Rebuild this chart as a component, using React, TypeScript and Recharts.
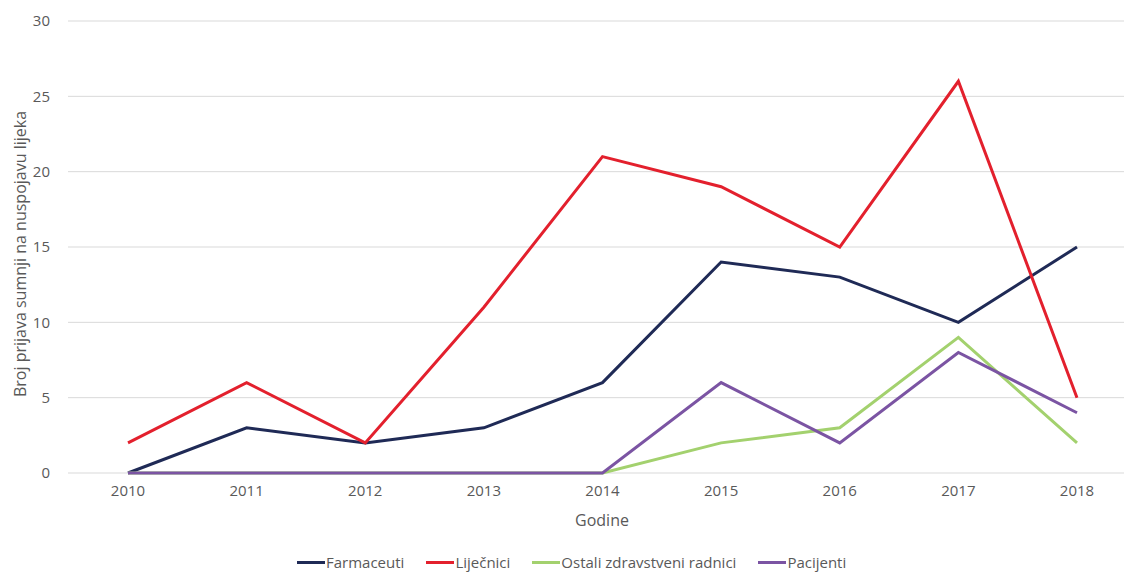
import { CartesianGrid, Line, LineChart, XAxis, YAxis } from "recharts";

const years = ["2010", "2011", "2012", "2013", "2014", "2015", "2016", "2017", "2018"];
const farmaceuti = [0, 3, 2, 3, 6, 14, 13, 10, 15];
const lijecnici = [2, 6, 2, 11, 21, 19, 15, 26, 5];
const ostali = [0, 0, 0, 0, 0, 2, 3, 9, 2];
const pacijenti = [0, 0, 0, 0, 0, 6, 2, 8, 4];
const yTicks = [0, 5, 10, 15, 20, 25, 30];

const series = [
  { key: "farmaceuti", name: "Farmaceuti", color: "#1f2a56" },
  { key: "lijecnici", name: "Liječnici", color: "#e3202d" },
  { key: "ostali", name: "Ostali zdravstveni radnici", color: "#a3d16e" },
  { key: "pacijenti", name: "Pacijenti", color: "#7b54a3" },
];

const data = years.map((year, i) => ({
  year,
  farmaceuti: farmaceuti[i],
  lijecnici: lijecnici[i],
  ostali: ostali[i],
  pacijenti: pacijenti[i],
}));

const font = "'Open Sans', 'Liberation Sans', sans-serif";
const textColor = "#595959";

// legend sits under the plot, outside the chart so it doesn't shrink the plot area
function LegendRow() {
  return (
    <div
      style={{
        position: "absolute",
        left: 297,
        top: 552,
        display: "flex",
        gap: 22,
        fontFamily: font,
        fontSize: 15,
        color: textColor,
        whiteSpace: "nowrap",
      }}
    >
      {series.map((s) => (
        <div key={s.key} style={{ display: "flex", alignItems: "center" }}>
          <span
            style={{
              display: "inline-block",
              width: 28,
              height: 3,
              background: s.color,
              marginRight: 1,
            }}
          />
          {s.name}
        </div>
      ))}
    </div>
  );
}

export default function App() {
  return (
    <div
      style={{
        position: "absolute",
        left: 0,
        top: 0,
        width: 1124,
        height: 572,
        background: "#fff",
        overflow: "hidden",
      }}
    >
      <LineChart
        width={1124}
        height={572}
        data={data}
        margin={{ top: 21, right: 0, left: 0, bottom: 69 }}
      >
        <CartesianGrid stroke="#d9d9d9" vertical={false} />
        <XAxis
          dataKey="year"
          padding={{ left: 60, right: 47 }}
          axisLine={false}
          tickLine={false}
          tickSize={0}
          tickMargin={12}
          tick={{ fill: textColor, fontSize: 15, fontFamily: font }}
          label={{
            value: "Godine",
            position: "insideBottom",
            offset: -23,
            fill: textColor,
            fontSize: 16,
            fontFamily: font,
            dx: 6,
          }}
        />
        <YAxis
          domain={[0, 30]}
          ticks={yTicks}
          width={68}
          axisLine={false}
          tickLine={false}
          tickSize={0}
          tickMargin={18}
          tick={{ fill: textColor, fontSize: 15, fontFamily: font }}
          label={{
            value: "Broj prijava sumnji na nuspojavu lijeka",
            angle: -90,
            position: "insideLeft",
            offset: 20,
            fill: textColor,
            fontSize: 16,
            fontFamily: font,
            dy: 7,
            style: { textAnchor: "middle" },
          }}
        />
        {series.map((s) => (
          <Line
            key={s.key}
            type="linear"
            dataKey={s.key}
            name={s.name}
            stroke={s.color}
            strokeWidth={3}
            dot={false}
            activeDot={false}
            isAnimationActive={false}
          />
        ))}
      </LineChart>
      <LegendRow />
    </div>
  );
}
